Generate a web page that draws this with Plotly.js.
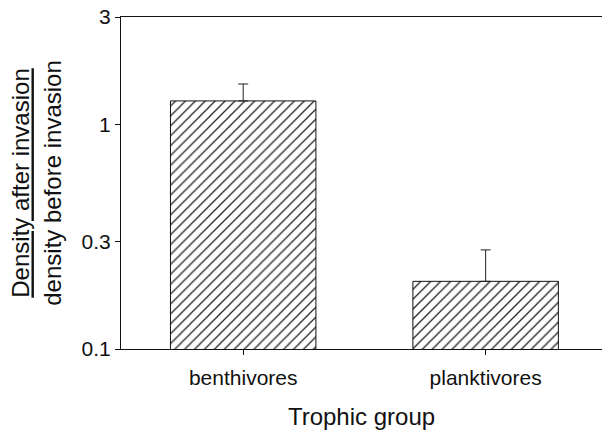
<!DOCTYPE html>
<html>
<head>
<meta charset="utf-8">
<script src="https://cdn.plot.ly/plotly-3.0.1.min.js"></script>
<style>
  html, body { margin: 0; padding: 0; background: #fff; }
  #chart { width: 602px; height: 430px; }
</style>
</head>
<body>
<div id="chart"></div>
<script>
// Density ratio (after / before invasion) by trophic group
const groups = ['benthivores', 'planktivores'];
const ratio = [1.27, 0.20];
const ratioUpper = [1.51, 0.276];   // top of the error whisker

const yTickVals = [0.1, 0.3, 1, 3];
const yTickText = ['0.1', '0.3', '1', '3'];

const errPlus = ratio.map((v, i) => ratioUpper[i] - v);
const errMinus = ratio.map(() => 0);

const FONT = 'Liberation Sans, Arial, sans-serif';

const trace = {
  type: 'bar',
  x: groups,
  y: ratio,
  width: 0.6,
  marker: {
    color: '#ffffff',
    line: { color: '#111', width: 1 },
    pattern: { shape: '/', size: 7, solidity: 0.18, fgcolor: '#222', bgcolor: '#ffffff' }
  },
  error_y: {
    type: 'data',
    symmetric: false,
    array: errPlus,
    arrayminus: errMinus,
    color: '#222',
    thickness: 1,
    width: 5
  },
  hoverinfo: 'skip'
};

const layout = {
  width: 602,
  height: 430,
  margin: { l: 121, r: 0, t: 17, b: 81 },
  paper_bgcolor: '#fff',
  plot_bgcolor: '#fff',
  showlegend: false,
  font: { family: FONT, color: '#111', size: 21 },
  xaxis: {
    type: 'category',
    range: [-0.504, 1.48],
    showline: true,
    linecolor: '#111',
    linewidth: 1,
    mirror: true,
    ticks: 'outside',
    ticklen: 5,
    tickcolor: '#111',
    ticklabelstandoff: 5,
    tickfont: { family: FONT, size: 21, color: '#111' },
    showgrid: false,
    zeroline: false,
    title: { text: 'Trophic group', font: { family: FONT, size: 24, color: '#111' }, standoff: 20 }
  },
  yaxis: {
    type: 'log',
    range: [Math.log10(0.1), Math.log10(3)],
    tickvals: yTickVals,
    ticktext: yTickText,
    showline: true,
    linecolor: '#111',
    linewidth: 1,
    ticks: 'outside',
    ticklen: 5,
    tickcolor: '#111',
    tickfont: { family: FONT, size: 21, color: '#111' },
    showgrid: false,
    zeroline: false,
    title: {
      text: '<span style="text-decoration:underline">Density after invasion</span><br>density before invasion',
      font: { family: FONT, size: 24, color: '#111' },
      standoff: 13
    }
  }
};

Plotly.newPlot('chart', [trace], layout, { displayModeBar: false, staticPlot: true });
</script>
</body>
</html>
